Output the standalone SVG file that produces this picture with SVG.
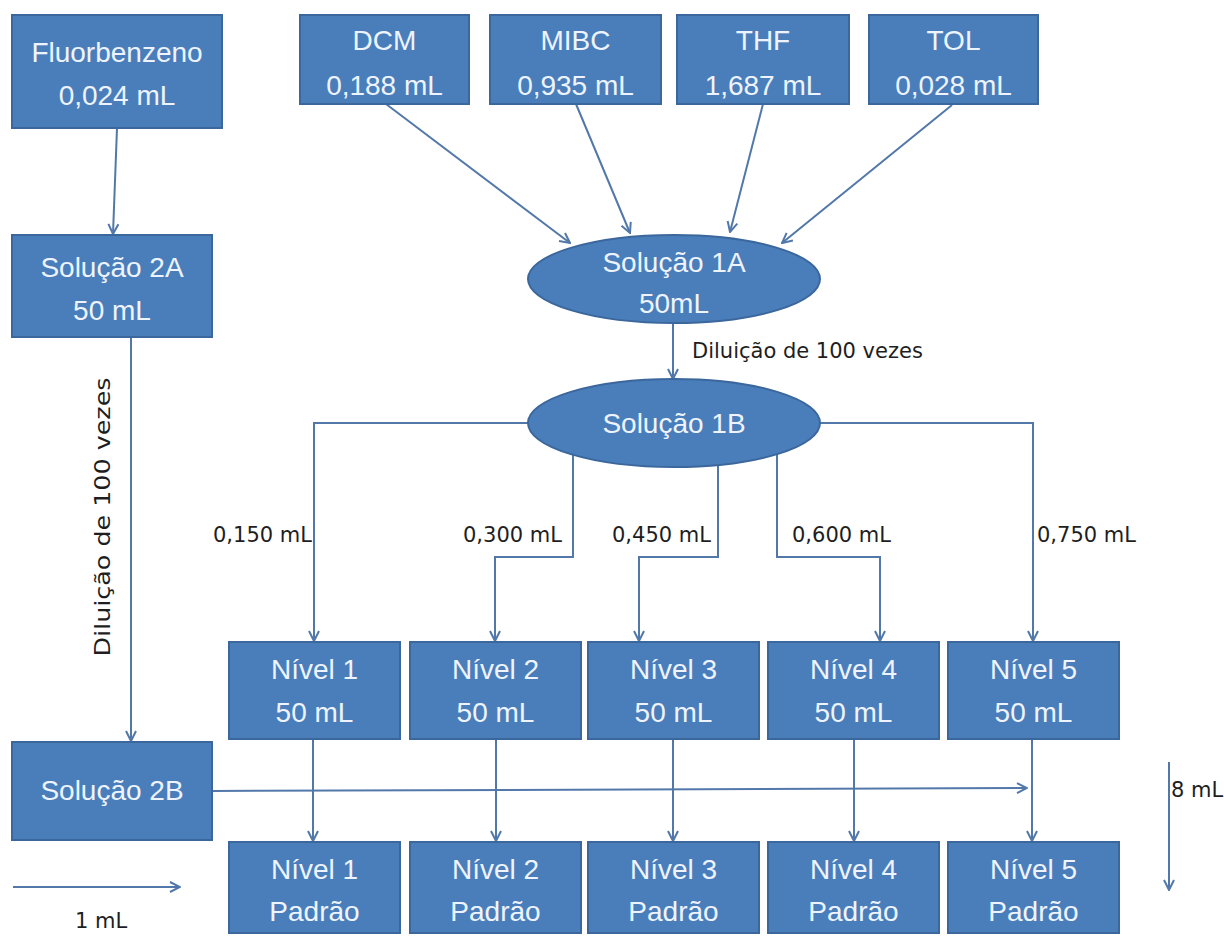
<svg xmlns="http://www.w3.org/2000/svg" width="1224" height="936" viewBox="0 0 1224 936">
<style>
.box{fill:#4a7ebb;stroke:#3b679c;stroke-width:2}
.nt{font-family:'Liberation Sans',Arial,sans-serif;font-size:28px;fill:#eef4ff;text-anchor:middle}
.lbl{font-family:'DejaVu Sans',Verdana,sans-serif;font-size:21px;fill:#1e1e1e}
.con{fill:none;stroke:#5278aa;stroke-width:2}
.arr{marker-end:url(#ah)}
</style>
<defs>
<marker id="ah" viewBox="0 0 12 12" refX="11" refY="6" markerWidth="12" markerHeight="12" markerUnits="userSpaceOnUse" orient="auto">
<path d="M1,1 L11,6 L1,11" fill="none" stroke="#5278aa" stroke-width="2"/>
</marker>
</defs>
<rect width="1224" height="936" fill="#ffffff"/>

<g id="connectors">
<line class="con arr" x1="117" y1="128" x2="113" y2="234"/>
<line class="con arr" x1="386" y1="104" x2="570" y2="243"/>
<line class="con arr" x1="576" y1="104" x2="630" y2="233"/>
<line class="con arr" x1="763" y1="104" x2="730" y2="232"/>
<line class="con arr" x1="952" y1="105" x2="782" y2="243"/>
<line class="con arr" x1="673" y1="323" x2="673" y2="379"/>
<line class="con arr" x1="131" y1="337" x2="131" y2="741"/>
<path class="con arr" d="M528,423 H314 V641"/>
<path class="con arr" d="M573,455 V557 H495 V641"/>
<path class="con arr" d="M718,465 V557 H639 V641"/>
<path class="con arr" d="M777,454 V557 H880 V641"/>
<path class="con arr" d="M820,423 H1033 V641"/>
<line class="con arr" x1="313" y1="739" x2="313" y2="841"/>
<line class="con arr" x1="496" y1="739" x2="496" y2="841"/>
<line class="con arr" x1="673" y1="739" x2="673" y2="841"/>
<line class="con arr" x1="854" y1="739" x2="854" y2="841"/>
<line class="con arr" x1="1032" y1="739" x2="1032" y2="841"/>
<line class="con arr" x1="212" y1="791" x2="1027" y2="788"/>
<line class="con arr" x1="13" y1="887" x2="180" y2="887"/>
<line class="con arr" x1="1169" y1="762" x2="1169" y2="890"/>
</g>

<g id="labels">
<text class="lbl" x="692" y="358">Diluição de 100 vezes</text>
<text class="lbl" transform="translate(110,517) rotate(-90)" text-anchor="middle" textLength="279" lengthAdjust="spacingAndGlyphs">Diluição de 100 vezes</text>
<text class="lbl" x="213" y="542">0,150 mL</text>
<text class="lbl" x="463" y="542">0,300 mL</text>
<text class="lbl" x="612" y="542">0,450 mL</text>
<text class="lbl" x="792" y="542">0,600 mL</text>
<text class="lbl" x="1037" y="542">0,750 mL</text>
<text class="lbl" x="1171" y="797">8 mL</text>
<text class="lbl" x="101" y="928" text-anchor="middle">1 mL</text>
</g>

<g id="n_fluor"><rect class="box" x="12" y="15" width="210" height="113"/>
<text class="nt" x="117" y="62">Fluorbenzeno</text><text class="nt" x="117" y="105">0,024 mL</text></g>
<g id="n_dcm"><rect class="box" x="300" y="15" width="169" height="89"/>
<text class="nt" x="384.5" y="50">DCM</text><text class="nt" x="384.5" y="95">0,188 mL</text></g>
<g id="n_mibc"><rect class="box" x="490" y="15" width="171" height="89"/>
<text class="nt" x="575.5" y="50">MIBC</text><text class="nt" x="575.5" y="95">0,935 mL</text></g>
<g id="n_thf"><rect class="box" x="677" y="15" width="172" height="89"/>
<text class="nt" x="763" y="50">THF</text><text class="nt" x="763" y="95">1,687 mL</text></g>
<g id="n_tol"><rect class="box" x="869" y="15" width="169" height="89"/>
<text class="nt" x="953.5" y="50">TOL</text><text class="nt" x="953.5" y="95">0,028 mL</text></g>

<g id="n_sol2a"><rect class="box" x="12" y="235" width="200" height="102"/>
<text class="nt" x="112" y="277">Solução 2A</text><text class="nt" x="112" y="320">50 mL</text></g>
<g id="n_sol1a"><ellipse class="box" cx="674" cy="279" rx="146" ry="44"/>
<text class="nt" x="674" y="272">Solução 1A</text><text class="nt" x="674" y="313">50mL</text></g>
<g id="n_sol1b"><ellipse class="box" cx="674" cy="423" rx="146" ry="44"/>
<text class="nt" x="674" y="433">Solução 1B</text></g>
<g id="n_sol2b"><rect class="box" x="12" y="742" width="200" height="98"/>
<text class="nt" x="112" y="800">Solução 2B</text></g>

<g id="n_nivel1"><rect class="box" x="229" y="642" width="171" height="97"/>
<text class="nt" x="314.5" y="679">Nível 1</text><text class="nt" x="314.5" y="722">50 mL</text></g>
<g id="n_nivel2"><rect class="box" x="410" y="642" width="171" height="97"/>
<text class="nt" x="495.5" y="679">Nível 2</text><text class="nt" x="495.5" y="722">50 mL</text></g>
<g id="n_nivel3"><rect class="box" x="588" y="642" width="171" height="97"/>
<text class="nt" x="673.5" y="679">Nível 3</text><text class="nt" x="673.5" y="722">50 mL</text></g>
<g id="n_nivel4"><rect class="box" x="768" y="642" width="171" height="97"/>
<text class="nt" x="853.5" y="679">Nível 4</text><text class="nt" x="853.5" y="722">50 mL</text></g>
<g id="n_nivel5"><rect class="box" x="948" y="642" width="171" height="97"/>
<text class="nt" x="1033.5" y="679">Nível 5</text><text class="nt" x="1033.5" y="722">50 mL</text></g>

<g id="n_padrao1"><rect class="box" x="229" y="842" width="171" height="91"/>
<text class="nt" x="314.5" y="879">Nível 1</text><text class="nt" x="314.5" y="921">Padrão</text></g>
<g id="n_padrao2"><rect class="box" x="410" y="842" width="171" height="91"/>
<text class="nt" x="495.5" y="879">Nível 2</text><text class="nt" x="495.5" y="921">Padrão</text></g>
<g id="n_padrao3"><rect class="box" x="588" y="842" width="171" height="91"/>
<text class="nt" x="673.5" y="879">Nível 3</text><text class="nt" x="673.5" y="921">Padrão</text></g>
<g id="n_padrao4"><rect class="box" x="768" y="842" width="171" height="91"/>
<text class="nt" x="853.5" y="879">Nível 4</text><text class="nt" x="853.5" y="921">Padrão</text></g>
<g id="n_padrao5"><rect class="box" x="948" y="842" width="171" height="91"/>
<text class="nt" x="1033.5" y="879">Nível 5</text><text class="nt" x="1033.5" y="921">Padrão</text></g>
</svg>
